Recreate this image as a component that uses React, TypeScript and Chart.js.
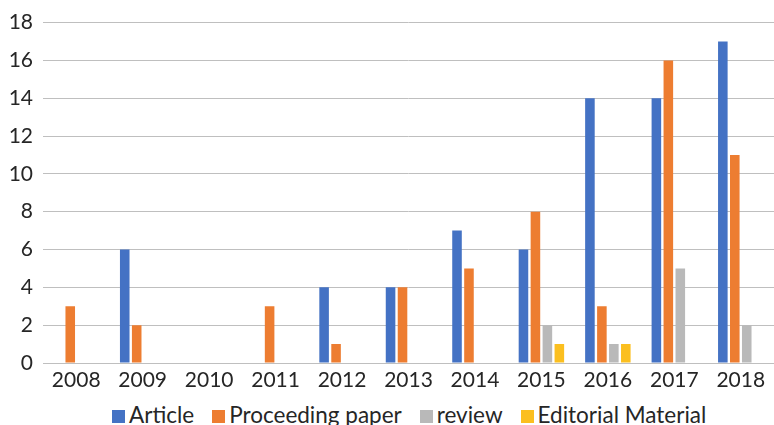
import React, { useEffect, useRef } from "react";
import { Chart, registerables } from "chart.js";

Chart.register(...registerables);

const years = ["2008", "2009", "2010", "2011", "2012", "2013", "2014", "2015", "2016", "2017", "2018"];
const article = [0, 6, 0, 0, 4, 4, 7, 6, 14, 14, 17];
const proceedingPaper = [3, 2, 0, 3, 1, 4, 5, 8, 3, 16, 11];
const review = [0, 0, 0, 0, 0, 0, 0, 2, 1, 5, 2];
const editorialMaterial = [0, 0, 0, 0, 0, 0, 0, 1, 1, 0, 0];

const seriesNames = ["Article", "Proceeding paper", "review", "Editorial Material"];
const seriesColors = ["#4472C4", "#ED7D31", "#B9B9B9", "#FBBF1F"];

const FONT = "Lato, 'Open Sans', sans-serif";
const TEXT = "#262626";
const CANVAS_H = 400;

export default function App() {
  const canvasRef = useRef<HTMLCanvasElement | null>(null);

  useEffect(() => {
    if (!canvasRef.current) return;
    const values = [article, proceedingPaper, review, editorialMaterial];
    const chart = new Chart(canvasRef.current, {
      type: "bar",
      data: {
        labels: years,
        datasets: seriesNames.map((name, i) => ({
          label: name,
          data: values[i],
          backgroundColor: seriesColors[i],
        })),
      },
      options: {
        responsive: false,
        animation: false,
        devicePixelRatio: 1,
        layout: { padding: { top: 15, right: 0, left: 0, bottom: 0 } },
        datasets: {
          bar: { categoryPercentage: 0.72, barPercentage: 0.8 },
        },
        plugins: {
          tooltip: { enabled: false },
          legend: { display: false },
        },
        scales: {
          x: {
            grid: { display: false, drawTicks: false },
            border: { display: true, color: "#BFBFBF", width: 1 },
            ticks: { color: TEXT, font: { family: FONT, size: 21 }, padding: 5 },
            afterFit: (scale: any) => {
              scale.height = CANVAS_H - 363;
            },
          },
          y: {
            min: 0,
            max: 18,
            ticks: { stepSize: 2, color: TEXT, font: { family: FONT, size: 21 }, padding: 10 },
            grid: { color: "#BFBFBF", lineWidth: 1, drawTicks: false },
            border: { display: false },
            afterFit: (scale: any) => {
              scale.width = 43;
            },
          },
        },
      },
    });
    return () => chart.destroy();
  }, []);

  return (
    <div style={{ position: "fixed", left: 0, top: 0, width: 774, height: 425, overflow: "hidden", background: "#fff" }}>
      <canvas ref={canvasRef} width={774} height={CANVAS_H} style={{ display: "block" }} />
      <div
        style={{
          position: "absolute",
          left: 112,
          top: 401,
          whiteSpace: "nowrap",
          fontFamily: FONT,
          fontSize: 22.5,
          lineHeight: "28px",
          color: TEXT,
        }}
      >
        {seriesNames.map((name, i) => (
          <span key={name} style={{ marginRight: 18 }}>
            <span
              style={{
                display: "inline-block",
                width: 13,
                height: 13,
                background: seriesColors[i],
                marginRight: 4,
                verticalAlign: "baseline",
              }}
            />
            {name}
          </span>
        ))}
      </div>
    </div>
  );
}
